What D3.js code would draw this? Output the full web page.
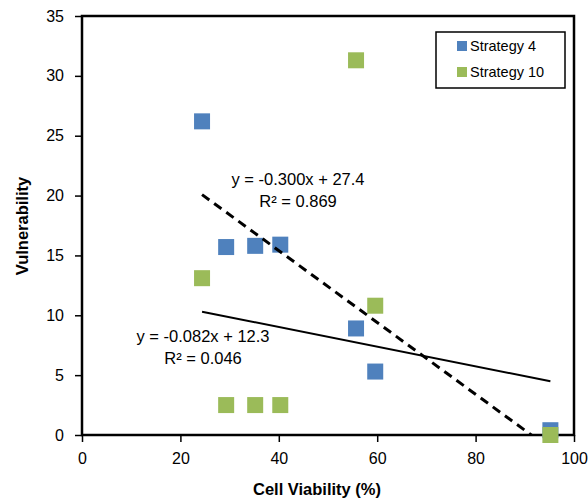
<!DOCTYPE html>
<html>
<head>
<meta charset="utf-8">
<script src="https://cdn.jsdelivr.net/npm/d3@7"></script>
<style>
  body { margin: 0; background: #fff; }
  svg { display: block; font-family: "Liberation Sans", Arial, sans-serif; }
</style>
</head>
<body>
<svg id="chart" width="588" height="498"></svg>
<script>
// data
const seriesNames = ["Strategy 4", "Strategy 10"];
const s4x = [24.4, 29.3, 35.2, 40.3, 55.7, 59.6, 95.2];
const s4y = [26.2, 15.7, 15.8, 15.9, 8.9, 5.3, 0.4];
const s10x = [55.7, 24.4, 29.3, 35.2, 40.3, 59.6, 95.2];
const s10y = [31.3, 13.1, 2.5, 2.5, 2.5, 10.8, 0];
const xTicks = [0, 20, 40, 60, 80, 100];
const yTicks = [0, 5, 10, 15, 20, 25, 30, 35];
// trendlines (from the printed equations)
const trendSlope = [-0.300, -0.082];
const trendIntercept = [27.4, 12.3];
const trendR2 = ["0.869", "0.046"];

const width = 588, height = 498;
const margin = { top: 16, right: 14, bottom: 63, left: 82 };
const colors = ["#4F81BD", "#9BBB59"];

const svg = d3.select("#chart");

const x = d3.scaleLinear().domain([0, 100]).range([margin.left, width - margin.right]);
const y = d3.scaleLinear().domain([0, 35]).range([height - margin.bottom, margin.top]);

svg.append("defs").append("clipPath").attr("id", "plotclip")
  .append("rect")
  .attr("x", x(0)).attr("y", y(35))
  .attr("width", x(100) - x(0)).attr("height", y(0) - y(35));

// axes
const xAxis = g => g
  .attr("transform", `translate(0,${y(0)})`)
  .style("font-size", "16px")
  .call(d3.axisBottom(x).tickValues(xTicks).tickSize(7).tickPadding(11).tickSizeOuter(0))
  .call(g => g.select(".domain").remove())
  .call(g => g.selectAll(".tick line").attr("stroke", "#000").attr("stroke-width", 1.5))
  .call(g => g.selectAll("text").attr("fill", "#000"));

const yAxis = g => g
  .attr("transform", `translate(${x(0)},0)`)
  .style("font-size", "16px")
  .call(d3.axisLeft(y).tickValues(yTicks).tickSize(7).tickPadding(11).tickSizeOuter(0))
  .call(g => g.select(".domain").remove())
  .call(g => g.selectAll(".tick line").attr("stroke", "#000").attr("stroke-width", 1.5))
  .call(g => g.selectAll("text").attr("fill", "#000"));

svg.append("g").attr("class", "x-axis").call(xAxis);
svg.append("g").attr("class", "y-axis").call(yAxis);

// plot border
svg.append("rect")
  .attr("x", x(0)).attr("y", y(35))
  .attr("width", x(100) - x(0)).attr("height", y(0) - y(35))
  .attr("fill", "none").attr("stroke", "#000").attr("stroke-width", 2.5);

// markers
const sz = 16;
const allSeries = [
  s4x.map((v, i) => ({ x: v, y: s4y[i] })),
  s10x.map((v, i) => ({ x: v, y: s10y[i] }))
];
allSeries.forEach((pts, k) => {
  svg.append("g").selectAll("rect")
    .data(pts)
    .join("rect")
    .attr("x", d => x(d.x) - sz / 2)
    .attr("y", d => y(d.y) - sz / 2)
    .attr("width", sz).attr("height", sz)
    .attr("fill", colors[k]);
});

// trendlines
const lineGen = d3.line().x(d => x(d[0])).y(d => y(d[1]));
[s4x, s10x].forEach((xs, k) => {
  const x0 = d3.min(xs), x1 = d3.max(xs);
  const pts = [x0, x1].map(v => [v, trendSlope[k] * v + trendIntercept[k]]);
  svg.append("path")
    .attr("clip-path", "url(#plotclip)")
    .attr("d", lineGen(pts))
    .attr("fill", "none")
    .attr("stroke", "#000")
    .attr("stroke-width", k === 0 ? 3 : 2)
    .attr("stroke-dasharray", k === 0 ? "9,6" : null);
});

// trendline labels
const labelPos = [[298, 185], [203, 342]];
trendSlope.forEach((m, k) => {
  const t = svg.append("text")
    .attr("x", labelPos[k][0]).attr("y", labelPos[k][1])
    .attr("text-anchor", "middle")
    .style("font-size", "16.5px");
  t.append("tspan").attr("x", labelPos[k][0])
    .text(`y = ${m.toFixed(3)}x + ${trendIntercept[k].toFixed(1)}`);
  t.append("tspan").attr("x", labelPos[k][0]).attr("dy", 22)
    .text(`R² = ${trendR2[k]}`);
});

// axis titles
svg.append("text")
  .attr("x", 317).attr("y", 495)
  .attr("text-anchor", "middle")
  .style("font-size", "16.5px").style("font-weight", "bold")
  .text("Cell Viability (%)");

svg.append("text")
  .attr("transform", "translate(28,226) rotate(-90)")
  .attr("text-anchor", "middle")
  .style("font-size", "16.5px").style("font-weight", "bold")
  .text("Vulnerability");

// legend
const lg = svg.append("g").attr("transform", "translate(436,32)");
lg.append("rect")
  .attr("width", 129).attr("height", 56)
  .attr("fill", "#fff").attr("stroke", "#000").attr("stroke-width", 1.5);
seriesNames.forEach((name, k) => {
  lg.append("rect")
    .attr("x", 21).attr("y", 9 + k * 26)
    .attr("width", 10).attr("height", 10)
    .attr("fill", colors[k]);
  lg.append("text")
    .attr("x", 34).attr("y", 19 + k * 26)
    .style("font-size", "14.5px")
    .text(name);
});
</script>
</body>
</html>
